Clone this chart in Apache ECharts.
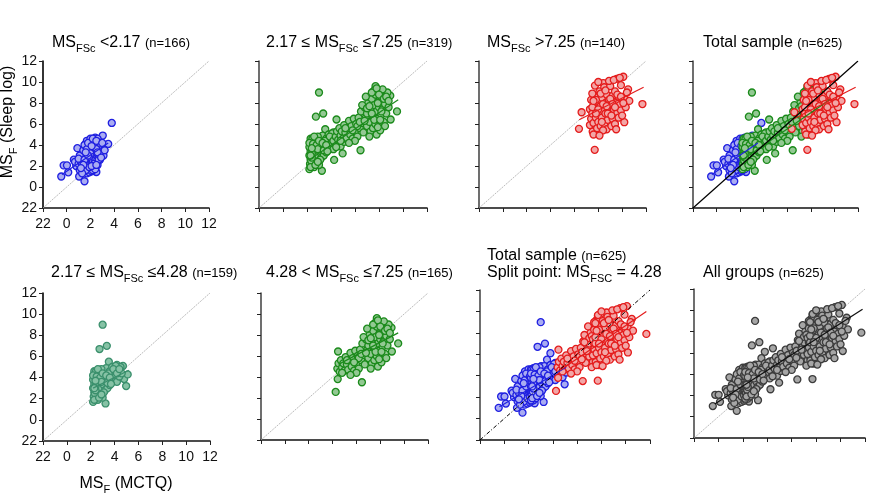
<!DOCTYPE html>
<html lang="en" style="height: 100%">
<head>
  <meta charset="utf-8">
</head>
<body style="height: 100%; margin: 0; background: #fff">
  <div id="container" style="width: 870px; height: 494px"></div>

  <script type="text/javascript" src="https://fastly.jsdelivr.net/npm/echarts@6/dist/echarts.min.js"></script>
  <script type="text/javascript">
// MS_F (MCTQ) x, MS_F (Sleep log) y
var groupLow = [
  [3.8, 6.1], [-0.46, 1.0], [-0.26, 2.06], [0.02, 2.06], [0.13, 1.4], [0.9, 3.7], [1.05, 1.0], [1.5, 0.55],
  [3.04, 4.9], [3.5, 4.1], [2.5, 1.43], [0.6, 2.6], [0.8, 2.0], [0.7, 2.4], [1.0, 2.2], [1.1, 1.6],
  [1.2, 2.9], [1.3, 3.1], [1.3, 2.0], [1.4, 1.5], [1.4, 2.5], [1.5, 3.4], [1.5, 1.8], [1.6, 2.2],
  [1.6, 2.8], [1.6, 3.8], [1.6, 4.1], [1.7, 1.3], [1.7, 3.0], [1.7, 4.4], [1.8, 2.0], [1.8, 2.6],
  [1.8, 3.5], [1.8, 1.6], [1.9, 3.2], [1.9, 4.0], [1.9, 2.3], [1.9, 1.4], [2.0, 2.9], [2.0, 3.6],
  [2.0, 4.6], [2.0, 1.8], [2.0, 2.2], [2.1, 3.3], [2.1, 2.6], [2.1, 4.2], [2.1, 1.5], [2.2, 3.0],
  [2.2, 3.8], [2.2, 2.0], [2.2, 2.5], [2.3, 4.4], [2.3, 3.4], [2.3, 2.8], [2.3, 1.9], [2.4, 4.7],
  [2.4, 3.6], [2.4, 3.1], [2.4, 2.3], [2.5, 4.0], [2.5, 2.7], [2.5, 3.3], [2.6, 4.6], [2.6, 3.8],
  [2.6, 2.9], [2.6, 2.1], [2.7, 3.5], [2.7, 4.2], [2.7, 3.0], [2.8, 3.7], [2.8, 2.6], [2.9, 3.3],
  [2.9, 4.0], [3.0, 3.6], [3.1, 3.0], [1.2, 2.4], [1.1, 3.0], [1.4, 3.5], [1.5, 4.0], [1.7, 2.0],
  [1.9, 2.9], [2.0, 3.9], [2.3, 4.0], [2.5, 3.6], [1.6, 1.6], [1.3, 1.3], [2.2, 1.6], [2.8, 3.2],
  [3.2, 3.5], [1.0, 2.7], [1.5, 2.6], [1.7, 3.6], [1.8, 4.2], [1.9, 1.9], [2.1, 3.9], [2.2, 4.6],
  [2.3, 2.2], [2.4, 1.7], [2.5, 4.4], [2.6, 3.3], [2.7, 2.6], [1.4, 2.1], [1.2, 1.8], [2.0, 3.2],
  [2.1, 2.0], [1.8, 3.0], [2.5, 2.1], [3.0, 4.2], [2.9, 2.8], [1.6, 3.3]
];
var groupMidLow = [
  [3.0, 9.0], [2.74, 6.7], [3.35, 7.0], [3.24, 1.55], [4.97, 3.2], [4.8, 3.86], [5.1, 4.3], [3.52, 5.5],
  [4.2, 5.2], [4.7, 5.1], [2.2, 1.7], [2.25, 2.2], [2.3, 2.6], [2.2, 3.0], [2.3, 3.4], [2.2, 3.8],
  [2.4, 4.2], [2.3, 4.6], [2.5, 2.0], [2.5, 2.9], [2.5, 3.6], [2.6, 1.9], [2.6, 2.4], [2.6, 3.2],
  [2.6, 4.0], [2.7, 4.6], [2.8, 2.2], [2.8, 2.8], [2.8, 3.5], [2.9, 4.2], [2.9, 3.0], [3.0, 2.5],
  [3.0, 3.8], [3.1, 4.6], [3.1, 3.3], [3.2, 2.8], [3.2, 4.0], [3.3, 3.6], [3.3, 4.9], [3.4, 3.0],
  [3.4, 4.3], [3.5, 3.8], [3.6, 4.6], [3.6, 3.3], [3.7, 4.1], [3.8, 5.0], [3.8, 3.6], [3.9, 4.4],
  [4.0, 3.9], [4.0, 4.8], [4.1, 4.2], [4.2, 3.6], [4.3, 4.6], [4.4, 4.1], [4.5, 5.0], [4.6, 4.4],
  [2.4, 3.2], [2.7, 3.8], [3.0, 2.1], [2.35, 2.5], [2.45, 4.6], [2.9, 4.8], [3.5, 4.4], [4.1, 5.1],
  [2.3, 1.9], [2.4, 2.8], [2.2, 4.2], [2.5, 4.1], [2.6, 4.8], [2.7, 2.1], [2.8, 4.0], [2.9, 3.6],
  [3.0, 4.4], [3.1, 2.6], [3.3, 4.2], [3.4, 3.5], [3.6, 4.0], [3.7, 3.4], [3.9, 4.8], [4.2, 4.4],
  [4.4, 4.8], [2.3, 3.0], [2.4, 3.7], [2.9, 2.4]
];
var groupMidHigh = [
  [4.26, 2.58], [4.43, 3.8], [4.46, 6.43], [6.46, 3.5], [7.71, 9.6], [9.5, 7.2], [8.97, 6.43], [8.1, 9.1],
  [8.94, 8.7], [8.66, 8.4], [4.4, 4.8], [4.5, 5.3], [4.6, 4.5], [4.7, 5.6], [4.8, 4.9], [4.9, 5.3],
  [5.0, 4.6], [5.1, 5.9], [5.2, 5.2], [5.3, 4.7], [5.4, 5.6], [5.5, 6.3], [5.6, 5.0], [5.7, 5.8],
  [5.8, 4.6], [5.9, 6.5], [6.0, 5.3], [6.1, 6.0], [6.2, 4.8], [6.3, 6.6], [6.4, 5.6], [6.5, 7.2],
  [6.6, 6.1], [6.7, 5.2], [6.8, 7.6], [6.9, 6.6], [7.0, 5.8], [7.0, 7.0], [7.1, 8.0], [7.2, 6.2],
  [7.3, 7.4], [7.3, 5.3], [7.4, 8.4], [7.5, 6.8], [7.5, 5.6], [7.6, 7.8], [7.7, 6.0], [7.7, 8.8],
  [7.8, 7.2], [7.8, 5.0], [7.9, 6.5], [8.0, 8.2], [8.0, 7.6], [8.1, 5.4], [8.2, 6.9], [8.2, 8.6],
  [8.3, 7.4], [8.4, 6.2], [8.5, 7.9], [8.5, 5.8], [8.6, 7.0], [8.7, 9.0], [8.8, 7.6], [7.2, 4.8],
  [6.9, 8.6], [6.0, 4.4], [5.5, 4.2], [7.6, 9.2], [8.3, 9.3], [6.6, 7.8], [6.2, 5.8], [7.9, 8.0],
  [7.4, 9.0], [7.8, 9.4], [8.0, 8.8], [8.2, 7.2], [8.4, 8.4], [8.6, 8.6], [7.0, 7.5], [7.2, 7.7],
  [7.6, 6.4], [6.4, 6.2], [5.8, 5.4], [5.2, 5.6], [4.8, 4.4], [6.8, 6.3], [8.8, 8.2], [7.4, 7.0],
  [8.1, 6.4], [7.9, 5.7]
];
var groupHigh = [
  [7.7, 3.54], [6.38, 5.54], [6.6, 7.12], [11.7, 7.9], [10.1, 10.5], [9.54, 10.3], [10.5, 9.3], [7.72, 9.66],
  [8.42, 9.9], [10.18, 6.17], [7.53, 5.28], [7.3, 5.9], [7.4, 6.5], [7.3, 7.4], [7.4, 8.3], [7.5, 7.0],
  [7.6, 6.1], [7.7, 7.8], [7.7, 8.6], [7.8, 6.6], [7.9, 5.6], [7.9, 7.3], [8.0, 8.1], [8.0, 6.2],
  [8.1, 9.1], [8.1, 7.0], [8.2, 5.8], [8.2, 7.7], [8.3, 8.5], [8.3, 6.6], [8.4, 7.3], [8.5, 9.5],
  [8.5, 6.0], [8.6, 8.0], [8.6, 7.0], [8.7, 5.5], [8.7, 8.8], [8.8, 7.5], [8.8, 6.4], [8.9, 8.3],
  [9.0, 9.6], [9.0, 7.1], [9.1, 5.8], [9.1, 7.8], [9.2, 8.7], [9.2, 6.5], [9.3, 7.4], [9.4, 9.1],
  [9.4, 6.0], [9.5, 8.0], [9.6, 7.1], [9.7, 8.6], [9.7, 6.6], [9.8, 7.8], [9.9, 9.7], [9.9, 7.3],
  [10.0, 6.8], [10.2, 8.4], [10.3, 7.6], [10.4, 9.0], [8.0, 10.0], [8.9, 10.1], [9.3, 10.2], [7.5, 8.9],
  [8.4, 5.4], [9.5, 5.5], [10.6, 8.2], [7.6, 5.0], [8.1, 4.9], [9.8, 10.4], [7.5, 7.6], [7.8, 8.3],
  [8.0, 7.4], [8.2, 8.9], [8.4, 7.9], [8.6, 9.2], [8.8, 7.0], [9.0, 8.4], [9.2, 7.9], [9.4, 7.6],
  [9.6, 8.8], [8.3, 6.2], [7.8, 7.0], [9.1, 6.8], [8.7, 7.7], [9.9, 8.6], [10.1, 8.0], [7.6, 8.2]
];

// regression line end points
var fitLow = [[-0.4, 1.2], [3.5, 4.2]];
var fitMid = [[2.2, 2.6], [9.6, 8.3]];
var fitHigh = [[6.4, 6.4], [11.8, 9.5]];
var fitMidLow = [[2.2, 3.0], [5.2, 4.7]];
var fitMidHigh = [[4.5, 5.2], [9.5, 8.2]];
var fitSplitLow = [[-0.4, 1.1], [5.1, 4.8]];
var fitSplitHigh = [[4.6, 4.5], [11.7, 10.0]];
var fitAll = [[-0.3, 1.2], [11.8, 10.1]];
var identity = [[-2, -2], [12, 12]];

var font = 'Liberation Sans, Arial, sans-serif';
var rich = {
  m: { fontSize: 16, lineHeight: 22, fontFamily: font, fontWeight: 'normal', color: '#000' },
  s: { fontSize: 11, lineHeight: 22, verticalAlign: 'bottom', fontFamily: font, fontWeight: 'normal', color: '#000' },
  n: { fontSize: 13, lineHeight: 22, fontFamily: font, fontWeight: 'normal', color: '#000' }
};

var grids = [
  { left: 43, top: 61, width: 166, height: 147 },
  { left: 259, top: 61, width: 168, height: 147 },
  { left: 479, top: 61, width: 167, height: 147 },
  { left: 693, top: 61, width: 165, height: 147 },
  { left: 43, top: 293, width: 167, height: 148 },
  { left: 261, top: 293, width: 167, height: 147 },
  { left: 480, top: 290, width: 170, height: 150 },
  { left: 694, top: 289, width: 171, height: 149 }
];

var titles = [
  { left: 52, top: 32, text: '{m|MS}{s|FSc}{m| <2.17 }{n|(n=166)}' },
  { left: 266, top: 32, text: '{m|2.17 ≤ MS}{s|FSc}{m| ≤7.25 }{n|(n=319)}' },
  { left: 487, top: 32, text: '{m|MS}{s|FSc}{m| >7.25 }{n|(n=140)}' },
  { left: 703, top: 32, text: '{m|Total sample }{n|(n=625)}' },
  { left: 51, top: 262, text: '{m|2.17 ≤ MS}{s|FSc}{m| ≤4.28 }{n|(n=159)}' },
  { left: 266, top: 262, text: '{m|4.28 < MS}{s|FSc}{m| ≤7.25 }{n|(n=165)}' },
  { left: 487, top: 245, text: '{m|Total sample }{n|(n=625)}' },
  { left: 487, top: 262, text: '{m|Split point: MS}{s|FSC}{m| = 4.28}' },
  { left: 703, top: 262, text: '{m|All groups }{n|(n=625)}' }
];

function axis(i, showLabels, dim) {
  return {
    type: 'value', gridIndex: i, min: -2, max: 12, interval: 2,
    axisLine: { show: true, onZero: false, lineStyle: { color: dim === 'y' && i !== 0 && i !== 4 ? '#555' : '#111', width: 1.7 } },
    axisTick: { show: true, length: 4, lineStyle: { color: '#222', width: 1 } },
    splitLine: { show: false },
    axisLabel: {
      show: showLabels, fontSize: 14, fontFamily: font, color: '#111', margin: dim === 'x' ? 9 : 6,
      formatter: function (v) { return v === -2 ? '22' : String(v); }
    }
  };
}

var xAxes = [], yAxes = [];
for (var i = 0; i < 8; i++) {
  xAxes.push(axis(i, i === 0 || i === 4, 'x'));
  yAxes.push(axis(i, i === 0 || i === 4, 'y'));
}

var styles = {
  blue: { color: '#a9acf2', borderColor: '#1f1fe0', line: '#2020e0' },
  green: { color: '#93c993', borderColor: '#1b8a1b', line: '#1b8a1b' },
  red: { color: '#f2a6a6', borderColor: '#e41c1c', line: '#e41c1c' },
  teal: { color: '#86c2a5', borderColor: '#3a8f6c', line: '#3a8f6c' },
  gray: { color: '#a6a6a6', borderColor: '#3c3c3c', line: '#111' }
};

var series = [];
function dots(i, data, st) {
  series.push({
    type: 'scatter', xAxisIndex: i, yAxisIndex: i, data: data, symbolSize: 7, z: 3,
    itemStyle: { color: styles[st].color, borderColor: styles[st].borderColor, borderWidth: 1.3, opacity: 1 }
  });
}
function line(i, data, color, width, type, z) {
  series.push({
    type: 'line', xAxisIndex: i, yAxisIndex: i, data: data, symbol: 'none', z: z || 4,
    lineStyle: { color: color, width: width, type: type || 'solid' }
  });
}

// diagonals
[0, 1, 2, 4, 5, 7].forEach(function (i) { line(i, identity, '#aaaaaa', 0.8, [2, 1], 2); });
line(3, identity, '#000', 1.2, 'solid', 5);
line(6, identity, '#000', 1, [4, 2, 1, 2], 5);

dots(0, groupLow, 'blue');
line(0, fitLow, styles.blue.line, 1.2);

dots(1, groupMidLow.concat(groupMidHigh), 'green');
line(1, fitMid, styles.green.line, 1.2);

dots(2, groupHigh, 'red');
line(2, fitHigh, styles.red.line, 1.2);

dots(3, groupLow, 'blue');
dots(3, groupMidLow.concat(groupMidHigh), 'green');
dots(3, groupHigh, 'red');
line(3, fitLow, styles.blue.line, 1.2);
line(3, fitMid, styles.green.line, 1.2);
line(3, fitHigh, styles.red.line, 1.2);

dots(4, groupMidLow, 'teal');
line(4, fitMidLow, styles.teal.line, 1.2);

dots(5, groupMidHigh, 'green');
line(5, fitMidHigh, styles.green.line, 1.2);

dots(6, groupLow.concat(groupMidLow), 'blue');
dots(6, groupMidHigh.concat(groupHigh), 'red');
line(6, fitSplitLow, styles.blue.line, 1.2);
line(6, fitSplitHigh, styles.red.line, 1.2);

dots(7, groupLow.concat(groupMidLow, groupMidHigh, groupHigh), 'gray');
line(7, fitAll, '#111', 1.3);

var dom = document.getElementById('container');
var myChart = echarts.init(dom, null, { renderer: 'canvas' });

var option = {
  animation: false,
  backgroundColor: '#fff',
  title: titles.map(function (t) {
    return { left: t.left, top: t.top, text: t.text, padding: 0, textStyle: { fontWeight: 'normal', rich: rich } };
  }),
  grid: grids,
  xAxis: xAxes,
  yAxis: yAxes,
  series: series,
  graphic: [
    {
      type: 'text', x: 8, y: 122, rotation: Math.PI / 2,
      style: {
        text: '{m|MS}{s|F}{m| (Sleep log)}', rich: rich,
        align: 'center', verticalAlign: 'middle'
      }
    },
    {
      type: 'text', x: 126, y: 484,
      style: {
        text: '{m|MS}{s|F}{m| (MCTQ)}', rich: rich,
        align: 'center', verticalAlign: 'middle'
      }
    }
  ]
};

myChart.setOption(option);
window.addEventListener('resize', myChart.resize);
  </script>
</body>
</html>
